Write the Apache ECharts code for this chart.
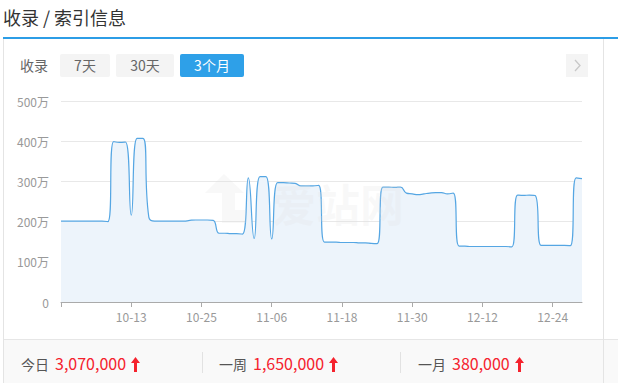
<!DOCTYPE html>
<html>
<head>
<meta charset="utf-8">
<script src="https://cdn.jsdelivr.net/npm/echarts@6/dist/echarts.min.js"></script>
<style>
  html, body { margin: 0; padding: 0; width: 618px; height: 383px; overflow: hidden; background: #fff;
    font-family: "Noto Sans CJK SC", "Noto Sans", sans-serif; }
  .abs { position: absolute; }
  #title { left: 3px; top: 4px; font-size: 18px; color: #333; line-height: 26px; white-space: pre; }
  #blueline { left: 3px; top: 37px; width: 615px; height: 2px; background: #2c9de6; }
  #lborder { left: 3px; top: 39px; width: 1px; height: 344px; background: #e4e4e4; }
  #rborder { left: 603px; top: 39px; width: 1px; height: 344px; background: #e4e4e4; }
  #statbg { left: 4px; top: 339px; width: 614px; height: 44px; background: #f9f9f9; border-top: 1px solid #e6e6e6; }
  #rangeLabel { left: 20px; top: 54px; height: 23px; line-height: 23px; font-size: 14px; color: #666; }
  .btn { top: 54px; height: 23px; line-height: 23px; font-size: 14px; text-align: center; border-radius: 2px;
    background: #f4f4f4; color: #666; }
  .btn.on { background: #2ea0e8; color: #fff; }
  #next { left: 566px; top: 54px; width: 22px; height: 23px; background: #f4f4f4; }
  .sep { top: 352px; width: 1px; height: 21px; background: #e2e2e2; }
  .stat { top: 351px; height: 24px; line-height: 24px; white-space: nowrap; }
  .stat .lab { font-size: 14px; color: #555; }
  .stat .val { font-size: 16px; color: #f5222d; margin-left: 6px; }
  .stat svg { margin-left: 5px; vertical-align: -2px; }
  #chart { left: 0; top: 0; width: 618px; height: 383px; }
</style>
</head>
<body>
<div id="title" class="abs">收录 / 索引信息</div>
<div id="blueline" class="abs"></div>
<div id="statbg" class="abs"></div>
<div id="lborder" class="abs"></div>
<div id="rborder" class="abs"></div>
<div id="rangeLabel" class="abs">收录</div>
<div id="btns"></div>
<div id="next" class="abs"><svg width="22" height="23"><polyline points="9,6 14,11.5 9,17" fill="none" stroke="#c8c8c8" stroke-width="1.3"/></svg></div>
<div class="abs sep" style="left:202px"></div>
<div class="abs sep" style="left:400px"></div>
<div id="stats"></div>
<div id="chart" class="abs"></div>
<script>
// ---- data ----
const dates = [
  '10-01','10-02','10-03','10-04','10-05','10-06','10-07','10-08','10-09','10-10',
  '10-11','10-12','10-13','10-14','10-15','10-16','10-17','10-18','10-19','10-20',
  '10-21','10-22','10-23','10-24','10-25','10-26','10-27','10-28','10-29','10-30','10-31',
  '11-01','11-02','11-03','11-04','11-05','11-06','11-07','11-08','11-09','11-10',
  '11-11','11-12','11-13','11-14','11-15','11-16','11-17','11-18','11-19','11-20',
  '11-21','11-22','11-23','11-24','11-25','11-26','11-27','11-28','11-29','11-30',
  '12-01','12-02','12-03','12-04','12-05','12-06','12-07','12-08','12-09','12-10',
  '12-11','12-12','12-13','12-14','12-15','12-16','12-17','12-18','12-19','12-20',
  '12-21','12-22','12-23','12-24','12-25','12-26','12-27','12-28','12-29'
];
// 收录 (unit: 万)
const indexed = [
  201,201,201,201,201,201,201,201,200,399,
  397,398,216,407,407,211,201,201,201,201,
  201,201,203,204,204,204,203,171,171,170,
  170,169,309,158,312,312,157,297,297,296,
  295,289,289,289,290,149,149,149,148,148,
  148,147,147,146,145,286,286,285,286,271,
  269,267,269,271,272,272,269,271,139,139,
  138,138,138,138,138,138,138,137,266,265,
  266,265,141,141,141,141,141,140,309,307
];
const yTicks = [0, 100, 200, 300, 400, 500];
const rangeButtons = ['7天', '30天', '3个月'];
const activeButton = '3个月';
const statLabels = ['今日', '一周', '一月'];
const statValues = ['3,070,000', '1,650,000', '380,000'];

// ---- html widgets ----
const btnPos = [[60, 50], [116, 58], [180, 64]];
document.getElementById('btns').innerHTML = rangeButtons.map((b, i) =>
  `<div class="abs btn${b === activeButton ? ' on' : ''}" style="left:${btnPos[i][0]}px;width:${btnPos[i][1]}px">${b}</div>`).join('');
const statX = [21, 219, 418];
const arrow = '<svg width="9" height="15" viewBox="0 0 9 15"><polygon points="4.5,0 9,6 6,6 6,15 3,15 3,6 0,6" fill="#f5222d"/></svg>';
document.getElementById('stats').innerHTML = statLabels.map((l, i) =>
  `<div class="abs stat" style="left:${statX[i]}px"><span class="lab">${l}</span><span class="val">${statValues[i]}</span>${arrow}</div>`).join('');

// ---- chart ----
const chart = echarts.init(document.getElementById('chart'), null, { renderer: 'svg' });
chart.setOption({
  animation: false,
  grid: { left: 61, right: 36, top: 101, bottom: 81 },
  graphic: [
    { type: 'text', left: 272, top: 181, z: 100, silent: true,
      style: { text: '爱站网', fontSize: 44, fontWeight: 'bold', fill: 'rgba(225,225,225,0.22)',
               fontFamily: 'Noto Sans CJK SC' } },
    { type: 'polygon', z: 100, silent: true,
      shape: { points: [[224,174],[244,193],[235,193],[235,210],[246,210],[246,223],[222,223],[222,193],[205,193]] },
      style: { fill: 'rgba(225,225,225,0.22)' } }
  ],
  xAxis: {
    type: 'category',
    data: dates,
    boundaryGap: false,
    axisLine: { lineStyle: { color: '#aaaaaa' } },
    axisTick: { interval: 11, length: 5, lineStyle: { color: '#aaaaaa' } },
    axisLabel: {
      interval: (idx) => idx > 0 && idx % 12 === 0,
      color: '#999', fontSize: 12, margin: 8, fontFamily: 'Noto Sans CJK SC'
    }
  },
  yAxis: {
    type: 'value',
    min: yTicks[0], max: yTicks[yTicks.length - 1], interval: 100,
    axisLine: { show: false },
    axisTick: { show: false },
    splitLine: { lineStyle: { color: '#e8e8e8' } },
    axisLabel: {
      color: '#999', fontSize: 12, margin: 12, fontFamily: 'Noto Sans CJK SC',
      formatter: (v) => v === 0 ? '0' : v + '万'
    }
  },
  series: [{
    type: 'line',
    data: indexed,
    smooth: true,
    symbol: 'none',
    lineStyle: { color: '#55a6e3', width: 1.2 },
    areaStyle: { color: '#edf4fb', opacity: 1 }
  }]
});
</script>
</body>
</html>
